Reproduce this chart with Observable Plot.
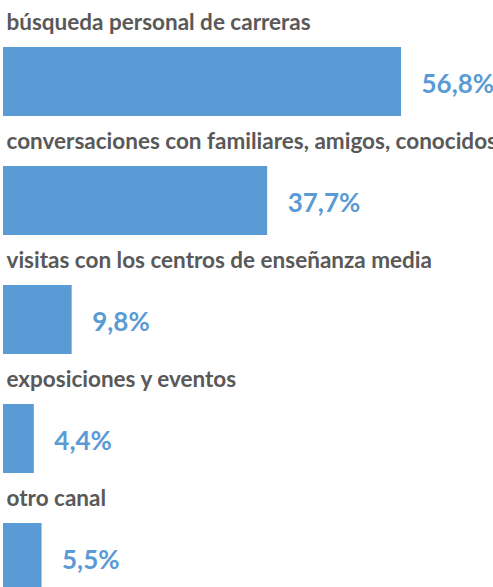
<!DOCTYPE html>
<html>
<head>
<meta charset="utf-8">
<script src="https://cdn.jsdelivr.net/npm/d3@7"></script>
<script src="https://cdn.jsdelivr.net/npm/@observablehq/plot@0.6"></script>
<style>
  html, body { margin: 0; padding: 0; background: #fff; }
  #chart svg { display: block; }
</style>
</head>
<body>
<div id="chart"></div>
<script>
const categories = [
  "búsqueda personal de carreras",
  "conversaciones con familiares, amigos, conocidos",
  "visitas con los centros de enseñanza media",
  "exposiciones y eventos",
  "otro canal"
];
const values = [56.8, 37.7, 9.8, 4.4, 5.5];
const valueLabels = ["56,8%", "37,7%", "9,8%", "4,4%", "5,5%"];

const data = categories.map((c, i) => ({cat: c, value: values[i], label: valueLabels[i]}));

const fontFamily = "Lato, 'Open Sans', sans-serif";

const chart = Plot.plot({
  width: 493,
  height: 587,
  marginTop: 0,
  marginBottom: 0,
  marginLeft: 0,
  marginRight: 0,
  style: {fontFamily, background: "#fff"},
  x: {domain: [0, 56.8], range: [3, 401], axis: null},
  y: {domain: categories, range: [45, 594], paddingInner: 0.42, paddingOuter: 0, axis: null},
  marks: [
    Plot.barX(data, {x: "value", y: "cat", fill: "#5B9BD5"}),
    Plot.text(data, {
      x: 0, y: "cat", text: "cat",
      textAnchor: "start", dx: 3, dy: -59,
      fill: "#595959", fontWeight: "bold", fontSize: 22.5
    }),
    Plot.text(data, {
      x: "value", y: "cat", text: "label",
      textAnchor: "start", dx: 20, dy: 3,
      fill: "#5B9BD5", fontWeight: "bold", fontSize: 26
    })
  ]
});
document.getElementById("chart").appendChild(chart);
</script>
</body>
</html>
